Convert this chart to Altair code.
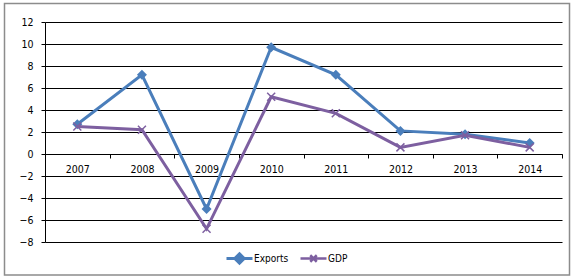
import altair as alt
import pandas as pd

years = ["2007", "2008", "2009", "2010", "2011", "2012", "2013", "2014"]
exports = [2.7, 7.2, -5.0, 9.7, 7.2, 2.1, 1.8, 1.0]
gdp = [2.5, 2.2, -6.8, 5.2, 3.7, 0.6, 1.7, 0.6]
y_ticks = list(range(-8, 13, 2))

BLUE = "#4A7EBB"
PURPLE = "#7D5FA0"
FONT = "Liberation Sans Narrow, Arial Narrow, DejaVu Sans Condensed, sans-serif"

EXP_PATH = "M-1,0L1,0M0,-0.36L0.36,0L0,0.36L-0.36,0Z"
GDP_LEG_PATH = "M-1,0L1,0M-0.25,-0.25L0.25,0.25M-0.25,0.25L0.25,-0.25"
X_MARK = "M-1,-1L1,1M-1,1L1,-1"

df_e = pd.DataFrame({"year": years, "value": exports, "series": "Exports"})
df_g = pd.DataFrame({"year": years, "value": gdp, "series": "GDP"})

x_enc = alt.X(
    "year:O",
    scale=alt.Scale(type="band", paddingInner=0, paddingOuter=0),
    bandPosition=0.5,
    axis=alt.Axis(
        title=None, labelAngle=0, offset=-88, tickBand="extent", tickSize=4,
        labelPadding=6, domainColor="black", tickColor="black", grid=False,
        labelFont=FONT, labelFontSize=10.5, labelColor="black",
    ),
)
y_enc = alt.Y(
    "value:Q",
    scale=alt.Scale(domain=[-8, 12], nice=False, zero=False),
    axis=alt.Axis(
        title=None, values=y_ticks, grid=True, gridColor="black", gridWidth=1,
        gridOpacity=1, domainColor="black", tickColor="black", tickSize=4,
        labelPadding=8, labelFont=FONT, labelFontSize=10.5, labelColor="black",
    ),
)


def legend(x, path, fill, sw):
    return alt.Legend(
        title=None, orient="none", legendX=x, legendY=222, symbolType=path,
        symbolSize=676, symbolStrokeWidth=sw, symbolFillColor=fill, labelOffset=0,
        labelFont=FONT, labelFontSize=10, labelColor="black", padding=0,
    )


line_e = alt.Chart(df_e).mark_line(strokeWidth=3).encode(
    x=x_enc, y=y_enc,
    stroke=alt.Stroke("series:N", scale=alt.Scale(domain=["Exports"], range=[BLUE]),
                      legend=legend(180, EXP_PATH, BLUE, 3)),
)
pt_e = alt.Chart(df_e).mark_point(shape="diamond", filled=True, size=100, color=BLUE, opacity=1).encode(
    x=x_enc, y=y_enc)

line_g = alt.Chart(df_g).mark_line(strokeWidth=3).encode(
    x=x_enc, y=y_enc,
    stroke=alt.Stroke("series:N", scale=alt.Scale(domain=["GDP"], range=[PURPLE]),
                      legend=legend(254, GDP_LEG_PATH, "transparent", 2.5)),
)
pt_g = alt.Chart(df_g).mark_point(shape=X_MARK, filled=False, size=64, strokeWidth=1.5, color=PURPLE, opacity=1).encode(
    x=x_enc, y=y_enc)

frame = alt.Chart(alt.Data(values=[{}])).mark_rect(fill=None, stroke="#8c8c8c", strokeWidth=1.5).encode(
    x=alt.value(-40.5), x2=alt.value(524.5), y=alt.value(-18.5), y2=alt.value(253)
)

chart = alt.layer(
    frame,
    alt.layer(line_e, pt_e),
    alt.layer(line_g, pt_g),
).resolve_scale(stroke="independent").properties(
    width=517, height=220,
    autosize=alt.AutoSizeParams(type="none"),
    padding={"left": 45, "top": 22, "right": 12, "bottom": 37},
    background="white",
).configure_view(stroke=None)

chart.save("out.html", embed_options={"renderer": "svg", "actions": False})
